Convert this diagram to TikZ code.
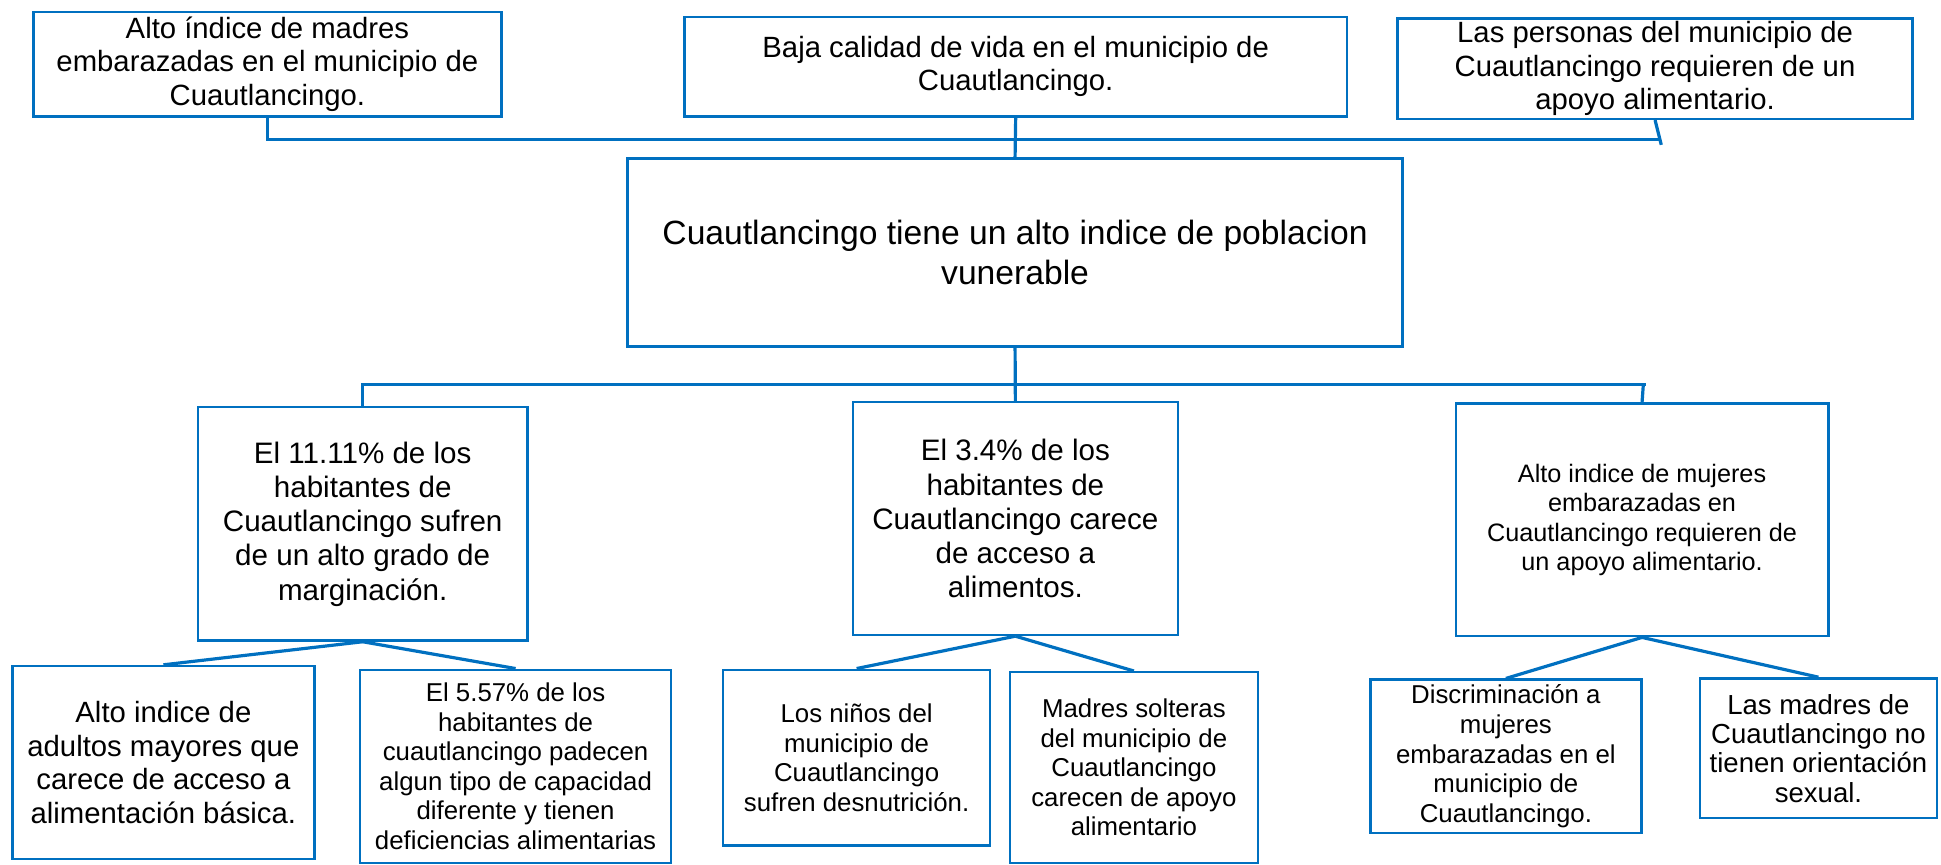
\documentclass[tikz,border=0pt]{standalone}
\usepackage{fontspec}
\setmainfont{Liberation Sans}
\usepackage{tikz}
\definecolor{lineblue}{RGB}{0,112,192}
\newlength{\unitpx}
\setlength{\unitpx}{0.015cm}

\begin{document}
\begin{tikzpicture}[
    x=0.015cm, y=-0.015cm,
    box/.style={rectangle, draw=lineblue, line width=0.8pt, fill=white, inner sep=0pt, align=center},
    toptext/.style={font=\fontsize{10.1}{11.6}\selectfont},
    midtext/.style={font=\fontsize{10.2}{11.8}\selectfont},
    lowtext/.style={font=\fontsize{8.9}{10.2}\selectfont},
    link/.style={draw=lineblue, line width=1.1pt}
]
    \useasboundingbox (0,0) rectangle (1568,698);

    % top row
    \node[box, toptext, minimum width=378\unitpx, minimum height=84.5\unitpx] (madres) at (216,51.75)
        {Alto índice de madres\\embarazadas en el municipio de\\Cuautlancingo.};
    \node[box, toptext, minimum width=535\unitpx, minimum height=80.5\unitpx] (calidad) at (820.5,53.75)
        {Baja calidad de vida en el municipio de\\Cuautlancingo.};
    \node[box, toptext, minimum width=416\unitpx, minimum height=81\unitpx] (personas) at (1337,55.5)
        {Las personas del municipio de\\Cuautlancingo requieren de un\\apoyo alimentario.};

    % central problem
    \node[box, font=\fontsize{11.6}{13.7}\selectfont, minimum width=626\unitpx, minimum height=152\unitpx] (problema) at (820,204)
        {Cuautlancingo tiene un alto indice de poblacion\\vunerable};

    % middle row
    \node[box, midtext, minimum width=266\unitpx, minimum height=188.5\unitpx] (marginacion) at (293,423.25)
        {El 11.11\% de los\\habitantes de\\Cuautlancingo sufren\\de un alto grado de\\marginación.};
    \node[box, midtext, minimum width=262.5\unitpx, minimum height=188\unitpx] (alimentos) at (820.25,419)
        {El 3.4\% de los\\habitantes de\\Cuautlancingo carece\\de acceso a\\alimentos.};
    \node[box, font=\fontsize{8.7}{10.1}\selectfont, minimum width=301\unitpx, minimum height=188\unitpx] (mujeres) at (1326.5,420)
        {Alto indice de mujeres\\embarazadas en\\Cuautlancingo requieren de\\un apoyo alimentario.};

    % bottom row
    \node[box, font=\fontsize{10.1}{11.5}\selectfont, minimum width=244\unitpx, minimum height=156\unitpx] (adultos) at (132,616)
        {Alto indice de\\adultos mayores que\\carece de acceso a\\alimentación básica.};
    \node[box, lowtext, minimum width=251\unitpx, minimum height=156\unitpx] (capacidad) at (416.5,619)
        {El 5.57\% de los\\habitantes de\\cuautlancingo padecen\\algun tipo de capacidad\\diferente y tienen\\deficiencias alimentarias};
    \node[box, lowtext, minimum width=216\unitpx, minimum height=142\unitpx] (ninos) at (692,612)
        {Los niños del\\municipio de\\Cuautlancingo\\sufren desnutrición.};
    \node[box, lowtext, minimum width=200\unitpx, minimum height=154\unitpx] (solteras) at (916,620)
        {Madres solteras\\del municipio de\\Cuautlancingo\\carecen de apoyo\\alimentario};
    \node[box, lowtext, minimum width=219\unitpx, minimum height=124\unitpx] (discriminacion) at (1216.5,611)
        {Discriminación a\\mujeres\\embarazadas en el\\municipio de\\Cuautlancingo.};
    \node[box, font=\fontsize{9.5}{10.1}\selectfont, minimum width=191\unitpx, minimum height=113\unitpx] (orientacion) at (1469,604.5)
        {Las madres de\\Cuautlancingo no\\tienen orientación\\sexual.};

    % connectors above the problem
    \coordinate (topend) at (1341,112.5);
    \coordinate (topjoin) at (1342,117);
    \draw[link] (madres.south) |- (topend);
    \draw[link] (personas.south) -- (topjoin);
    \draw[link] (calidad.south) -- (problema.north);

    % connectors below the problem
    \coordinate (midend) at (1330,310.5);
    \coordinate (midjoin) at (1327.5,311);
    \draw[link] (marginacion.north) |- (midend);
    \draw[link] (mujeres.north) -- (midjoin);
    \draw[link] (problema.south) -- (alimentos.north);

    \draw[link] (marginacion.south) -- (adultos.north);
    \draw[link] (marginacion.south) -- (capacidad.north);
    \draw[link] (alimentos.south) -- (ninos.north);
    \draw[link] (alimentos.south) -- (solteras.north);
    \draw[link] (mujeres.south) -- (discriminacion.north);
    \draw[link] (mujeres.south) -- (orientacion.north);
\end{tikzpicture}
\end{document}
